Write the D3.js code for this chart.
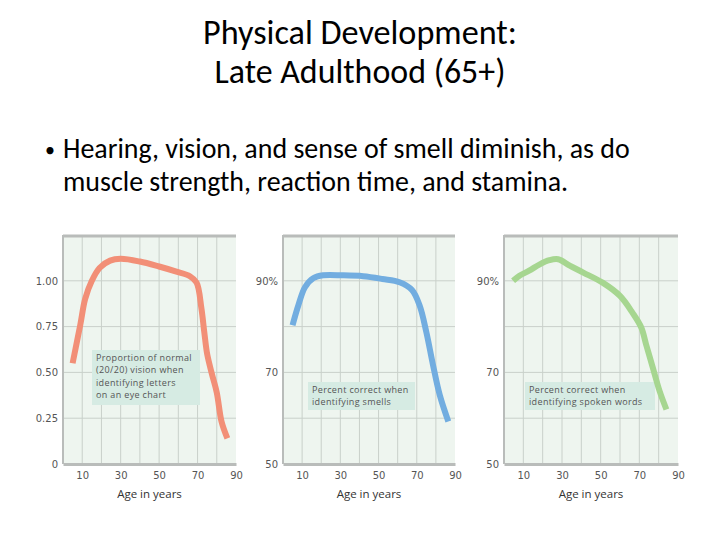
<!DOCTYPE html>
<html>
<head>
<meta charset="utf-8">
<title>Physical Development: Late Adulthood</title>
<script src="https://cdn.jsdelivr.net/npm/d3@7"></script>
<style>
  body { margin: 0; background: #fff; }
  svg { display: block; }
  .slide { font-family: Carlito, Lato, "Open Sans", sans-serif; fill: #000; }
  .tick text { font-family: "DejaVu Sans", sans-serif; font-size: 10px; fill: #555; }
  .note { font-family: "Open Sans", sans-serif; font-size: 9px; letter-spacing: 0.35px; fill: #555; }
  .xlabel { font-family: "Open Sans", sans-serif; font-size: 11.5px; fill: #333; }
</style>
</head>
<body>
<div id="app"></div>
<script>
// ---- data ----
var titleLines = ["Physical Development:", "Late Adulthood (65+)"];
var bulletLines = ["Hearing, vision, and sense of smell diminish, as do",
                   "muscle strength, reaction time, and stamina."];

var xTicks = [10, 30, 50, 70, 90];
var xGrid = [10, 20, 30, 40, 50, 60, 70, 80];

// vision: proportion of normal (20/20) vision
var visionAge = [5, 9, 11.5, 15, 19, 24.5, 30, 40, 50, 59, 66, 69.5, 72, 73.5, 75, 77.5, 80, 82.5, 85.5];
var visionVal = [0.55, 0.76, 0.9, 1.0, 1.07, 1.11, 1.12, 1.105, 1.078, 1.05, 1.025, 0.99, 0.85, 0.72, 0.6, 0.49, 0.39, 0.23, 0.14];
var visionTicks = [0, 0.25, 0.5, 0.75, 1.0];
var visionTickLabels = ["0", "0.25", "0.50", "0.75", "1.00"];

// smell: percent correct identifying smells
var smellAge = [5, 8, 11.5, 16, 21, 31, 42, 52, 61, 67.5, 71.5, 75, 78.5, 82, 86.5];
var smellVal = [80.3, 84.6, 88.6, 90.6, 91.2, 91.2, 91.0, 90.4, 89.7, 88.0, 84.6, 78.8, 71.6, 65.1, 59.3];

// hearing: percent correct identifying spoken words
var hearAge = [4.7, 8, 13, 18.5, 23.5, 28, 34, 41, 51, 60, 66.5, 71, 73.5, 77, 80.5, 84];
var hearVal = [90, 91.1, 92.2, 93.6, 94.5, 94.7, 93.3, 91.8, 89.6, 86.7, 83, 79.8, 76.1, 71, 65.9, 61.9];

var pctTicks = [50, 70, 90];
var pctTickLabels = ["50", "70", "90%"];
var pctGrid = [60, 70, 80, 90];

var visionNote = ["Proportion of normal", "(20/20) vision when", "identifying letters", "on an eye chart"];
var smellNote = ["Percent correct when", "identifying smells"];
var hearNote = ["Percent correct when", "identifying spoken words"];

!function () {
    var w = 720, h = 540;
    var svg = d3.select('#app').append('svg').attr('width', w).attr('height', h);

    // fit a text element to a target width by scaling its font size
    function fit(t, size, target) {
        t.attr('font-size', size);
        var len = t.node().getComputedTextLength();
        t.attr('font-size', size * target / len);
    }

    // title
    var tl = svg.append('g').attr('class', 'slide');
    fit(tl.append('text').attr('x', 360).attr('y', 44).attr('text-anchor', 'middle').text(titleLines[0]), 28, 314);
    fit(tl.append('text').attr('x', 360).attr('y', 83).attr('text-anchor', 'middle').text(titleLines[1]), 28, 291);

    // bullet
    tl.append('text').attr('x', 45).attr('y', 157).attr('font-size', 20).text('\u2022');
    var b1 = tl.append('text').attr('x', 63).attr('y', 158).text(bulletLines[0]);
    fit(b1, 24, 567);
    tl.append('text').attr('x', 63).attr('y', 191).attr('font-size', b1.attr('font-size')).text(bulletLines[1]);

    var top = 235, bottom = 464;
    var panels = [
        {x0: 63, x1: 236, ages: visionAge, vals: visionVal, domain: [0, 1.25], grid: [0.25, 0.5, 0.75, 1.0],
         ticks: visionTicks, tickLabels: visionTickLabels, color: '#f28f77',
         note: visionNote, box: [92, 350, 108, 55]},
        {x0: 283, x1: 455, ages: smellAge, vals: smellVal, domain: [50, 100], grid: pctGrid,
         ticks: pctTicks, tickLabels: pctTickLabels, color: '#72ade0',
         note: smellNote, box: [308, 382, 107, 28]},
        {x0: 504, x1: 678, ages: hearAge, vals: hearVal, domain: [50, 100], grid: pctGrid,
         ticks: pctTicks, tickLabels: pctTickLabels, color: '#a6d690',
         note: hearNote, box: [525, 382, 130, 28]}
    ];

    panels.forEach(function (p) {
        var x = d3.scaleLinear().domain([0, 90]).range([p.x0, p.x1]);
        var y = d3.scaleLinear().domain(p.domain).range([bottom, top]);
        var g = svg.append('g');

        g.append('rect').attr('x', p.x0).attr('y', top).attr('width', p.x1 - p.x0).attr('height', bottom - top)
            .attr('fill', '#eef5ef');

        // grid lines
        g.selectAll('line.vg').data(xGrid).enter().append('line').attr('class', 'vg')
            .attr('x1', x).attr('x2', x).attr('y1', top).attr('y2', bottom)
            .attr('stroke', '#c9d0ca').attr('stroke-width', 1);
        g.selectAll('line.hg').data(p.grid).enter().append('line').attr('class', 'hg')
            .attr('x1', p.x0).attr('x2', p.x1).attr('y1', y).attr('y2', y)
            .attr('stroke', '#c9d0ca').attr('stroke-width', 1);

        // note box
        g.append('rect').attr('x', p.box[0]).attr('y', p.box[1]).attr('width', p.box[2]).attr('height', p.box[3])
            .attr('fill', '#d6ebe3');
        g.selectAll('text.note').data(p.note).enter().append('text').attr('class', 'note')
            .attr('x', p.box[0] + 4).attr('y', function (d, i) { return p.box[1] + 11 + i * 12.4; })
            .text(function (d) { return d; });

        // frame: top, left, bottom
        g.append('line').attr('x1', p.x0).attr('x2', p.x1).attr('y1', top + 1).attr('y2', top + 1)
            .attr('stroke', '#b9bcba').attr('stroke-width', 3);
        g.append('line').attr('x1', p.x0).attr('x2', p.x0).attr('y1', top).attr('y2', bottom)
            .attr('stroke', '#b9bcba').attr('stroke-width', 2);

        // axes
        var xa = g.append('g').attr('transform', 'translate(0,' + bottom + ')')
            .call(d3.axisBottom(x).tickValues(xTicks).tickSize(0).tickPadding(8));
        xa.select('.domain').attr('stroke', '#b9bcba').attr('stroke-width', 3);

        var ya = g.append('g').attr('transform', 'translate(' + p.x0 + ',0)')
            .call(d3.axisLeft(y).tickValues(p.ticks).tickSize(0).tickPadding(5)
                .tickFormat(function (d, i) { return p.tickLabels[i]; }));
        ya.select('.domain').remove();

        g.append('text').attr('class', 'xlabel').attr('x', (p.x0 + p.x1) / 2).attr('y', 498)
            .attr('text-anchor', 'middle').text('Age in years');

        // curve
        var line = d3.line()
            .x(function (d) { return x(d[0]); })
            .y(function (d) { return y(d[1]); })
            .curve(d3.curveCatmullRom);
        g.append('path').datum(d3.zip(p.ages, p.vals)).attr('d', line)
            .attr('fill', 'none').attr('stroke', p.color).attr('stroke-width', 6)
            .attr('stroke-linejoin', 'round');
    });
}();
</script>
</body>
</html>
